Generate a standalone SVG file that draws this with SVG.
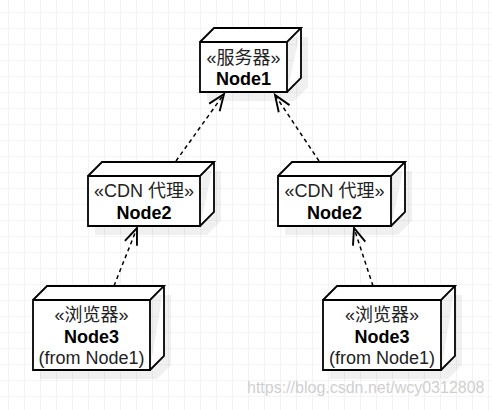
<svg xmlns="http://www.w3.org/2000/svg" width="492" height="410" viewBox="0 0 492 410">
<style>
.cube{fill:#fff;stroke:#000;stroke-width:1.8;stroke-linejoin:miter}
.shadow{fill:#000;opacity:0.06}
.st{font-family:"Liberation Sans","Noto Sans CJK SC",sans-serif;font-size:18px;fill:#222;text-anchor:middle}
.nm{font-family:"Liberation Sans","Noto Sans CJK SC",sans-serif;font-size:18px;font-weight:bold;fill:#000;text-anchor:middle}
.edge{fill:none;stroke:#000;stroke-width:1.5;stroke-dasharray:4 3.5}
.wm{font-family:"Liberation Sans",sans-serif;font-size:16px;fill:#cfcfcf}
</style>
<defs>
<pattern id="grid" x="8" y="12" width="16" height="16" patternUnits="userSpaceOnUse">
<path d="M0,0 H16 M0,0 V16" fill="none" stroke="#ebebeb" stroke-width="1.2"/>
</pattern>
<marker id="open" markerUnits="userSpaceOnUse" markerWidth="20" markerHeight="20" refX="0" refY="0" viewBox="-15 -8 17 16" orient="auto" overflow="visible">
<path d="M-14,-5.5 L0,0 L-14,5.5" fill="none" stroke="#000" stroke-width="1.6"/>
</marker>
</defs>
<rect width="492" height="410" fill="#fff"/>
<rect width="492" height="410" fill="url(#grid)"/>

<g id="connectors">
<path class="edge" d="M176,161 L224,94" marker-end="url(#open)"/>
<path class="edge" d="M319,161 L275,95" marker-end="url(#open)"/>
<path class="edge" d="M114,286 L137,228" marker-end="url(#open)"/>
<path class="edge" d="M373,286 L354,228" marker-end="url(#open)"/>
</g>

<g id="node1">
<path class="shadow" d="M207,51 L221,37 L308,37 L308,87 L294,101 L207,101 Z"/>
<path class="cube" d="M200,42 H287 V92 H200 Z M200,42 L214,28 H301 L287,42 M287,92 L301,78 V28"/>
<text class="st" x="243.5" y="63.5">«服务器»</text>
<text class="nm" x="243.5" y="85">Node1</text>
</g>

<g id="node2a">
<path class="shadow" d="M95,185 L109,171 L221,171 L221,221 L207,235 L95,235 Z"/>
<path class="cube" d="M88,176 H200 V226 H88 Z M88,176 L102,162 H214 L200,176 M200,226 L214,212 V162"/>
<text class="st" x="144" y="197">«CDN 代理»</text>
<text class="nm" x="144" y="219">Node2</text>
</g>

<g id="node2b">
<path class="shadow" d="M285,185 L299,171 L412,171 L412,221 L398,235 L285,235 Z"/>
<path class="cube" d="M278,176 H391 V226 H278 Z M278,176 L292,162 H405 L391,176 M391,226 L405,212 V162"/>
<text class="st" x="334.5" y="197">«CDN 代理»</text>
<text class="nm" x="334.5" y="219">Node2</text>
</g>

<g id="node3a">
<path class="shadow" d="M40,309 L54,295 L171,295 L171,365 L157,379 L40,379 Z"/>
<path class="cube" d="M33,300 H150 V370 H33 Z M33,300 L47,286 H164 L150,300 M150,370 L164,356 V286"/>
<text class="st" x="91.5" y="321">«浏览器»</text>
<text class="nm" x="91.5" y="343">Node3</text>
<text class="st" x="91.5" y="364">(from Node1)</text>
</g>

<g id="node3b">
<path class="shadow" d="M330,309 L344,295 L462,295 L462,365 L448,379 L330,379 Z"/>
<path class="cube" d="M323,300 H441 V370 H323 Z M323,300 L337,286 H455 L441,300 M441,370 L455,356 V286"/>
<text class="st" x="382" y="321">«浏览器»</text>
<text class="nm" x="382" y="343">Node3</text>
<text class="st" x="382" y="364">(from Node1)</text>
</g>

<text class="wm" x="247" y="393">https://blog.csdn.net/wcy0312808</text>
</svg>
